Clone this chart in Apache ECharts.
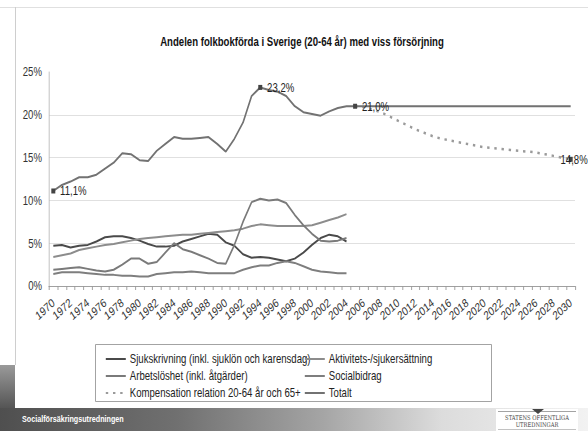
<!DOCTYPE html>
<html>
<head>
<meta charset="utf-8">
<script src="https://cdn.jsdelivr.net/npm/echarts@6/dist/echarts.min.js"></script>
<style>
  html, body { margin: 0; padding: 0; background: #fff; overflow: hidden; }
  /* bilden är hoptryckt på bredden, så diagrammet ritas bredare och trycks ihop */
  #chart { width: 735px; height: 431px; transform: scaleX(0.8); transform-origin: 0 0; }
</style>
</head>
<body>
<div id="chart"></div>
<script>
// år på x-axeln
const years = [
  '1970','1971','1972','1973','1974','1975','1976','1977','1978','1979',
  '1980','1981','1982','1983','1984','1985','1986','1987','1988','1989',
  '1990','1991','1992','1993','1994','1995','1996','1997','1998','1999',
  '2000','2001','2002','2003','2004','2005','2006','2007','2008','2009',
  '2010','2011','2012','2013','2014','2015','2016','2017','2018','2019',
  '2020','2021','2022','2023','2024','2025','2026','2027','2028','2029','2030'
];

// andel i procent, 1970-2004
const sjukskrivning = [
  4.7, 4.8, 4.5, 4.7, 4.8, 5.2, 5.7, 5.8, 5.8, 5.6,
  5.3, 4.9, 4.6, 4.6, 4.7, 5.2, 5.5, 5.8, 6.1, 6.0,
  5.1, 4.7, 3.7, 3.3, 3.4, 3.3, 3.1, 2.9, 3.2, 3.9,
  4.8, 5.6, 6.0, 5.8, 5.2
];
const aktivitets = [
  3.4, 3.6, 3.8, 4.2, 4.4, 4.6, 4.8, 4.9, 5.1, 5.3,
  5.5, 5.6, 5.7, 5.8, 5.9, 6.0, 6.0, 6.1, 6.2, 6.3,
  6.4, 6.5, 6.7, 7.0, 7.2, 7.1, 7.0, 7.0, 7.0, 7.0,
  7.1, 7.4, 7.7, 8.0, 8.4
];
const arbetsloshet = [
  1.9, 2.0, 2.1, 2.2, 2.0, 1.8, 1.7, 1.9, 2.5, 3.2,
  3.2, 2.6, 2.8, 3.9, 5.0, 4.3, 4.0, 3.6, 3.2, 2.7,
  2.6, 4.8, 7.5, 9.8, 10.2, 10.0, 10.1, 9.7, 8.3, 7.1,
  6.1, 5.3, 5.2, 5.3, 5.6
];
const socialbidrag = [
  1.4, 1.6, 1.6, 1.6, 1.5, 1.4, 1.3, 1.3, 1.2, 1.2,
  1.1, 1.1, 1.4, 1.5, 1.6, 1.6, 1.7, 1.6, 1.5, 1.5,
  1.5, 1.5, 1.9, 2.2, 2.4, 2.4, 2.7, 2.9, 2.7, 2.3,
  1.9, 1.7, 1.6, 1.5, 1.5
];
// totalt 1970-2005, sedan konstant till 2030
const totalt = [
  11.1, 11.8, 12.2, 12.7, 12.7, 13.0, 13.7, 14.4, 15.5, 15.4,
  14.7, 14.6, 15.8, 16.6, 17.4, 17.2, 17.2, 17.3, 17.4, 16.6,
  15.7, 17.2, 19.1, 22.2, 23.2, 22.9, 22.7, 22.2, 21.0, 20.3,
  20.1, 19.9, 20.4, 20.8, 21.0, 21.0, 21.0, 21.0, 21.0, 21.0,
  21.0, 21.0, 21.0, 21.0, 21.0, 21.0, 21.0, 21.0, 21.0, 21.0,
  21.0, 21.0, 21.0, 21.0, 21.0, 21.0, 21.0, 21.0, 21.0, 21.0, 21.0
];
// kompensation 2005-2030
const kompensation = [
  21.0, 20.9, 20.6, 20.3, 19.8, 19.3, 18.8, 18.3, 17.9, 17.5,
  17.2, 17.0, 16.8, 16.6, 16.4, 16.2, 16.1, 16.0, 15.9, 15.8,
  15.7, 15.6, 15.4, 15.2, 15.0, 14.8
];
const kompStart = 35; // index för 2005

// punkter som får etikett
const totaltLabels = [0, 24, 35];
const kompLabels = [kompensation.length - 1];

const FONT = "'Liberation Sans', Arial, sans-serif";
const SX = 0.8;
const px = x => x / SX;   // x i bilden -> x i det breda diagrammet

const chart = echarts.init(document.getElementById('chart'), null, { renderer: 'svg' });

function pct(v) {
  return v.toFixed(1).replace('.', ',') + '%';
}

function labelled(v, offset) {
  return {
    value: v,
    symbol: 'rect',
    symbolSize: 5,
    itemStyle: { color: '#444' },
    label: {
      show: true,
      position: 'right',
      distance: 6,
      offset: offset || [0, 0],
      formatter: p => pct(p.value),
      fontFamily: FONT,
      fontSize: 12,
      color: '#222'
    }
  };
}

const totaltData = totalt.map((v, i) => totaltLabels.includes(i) ? labelled(v) : v);
const kompData = years.map((y, i) => {
  const k = i - kompStart;
  if (k < 0) return null;
  return kompLabels.includes(k) ? labelled(kompensation[k], [-px(17), 0]) : kompensation[k];
});

const legendText = { fontFamily: FONT, fontSize: 12, color: '#222' };

const option = {
  animation: false,
  textStyle: { fontFamily: FONT },
  grid: { left: px(49), right: px(13), top: 72, bottom: 145 },
  xAxis: {
    type: 'category',
    data: years,
    boundaryGap: true,
    axisLine: { lineStyle: { color: '#999' } },
    axisTick: { show: true, interval: 0, length: 4, lineStyle: { color: '#999' } },
    axisLabel: {
      interval: 1,
      rotate: 37,
      margin: 15,
      fontSize: 12,
      color: '#333'
    }
  },
  yAxis: {
    type: 'value',
    min: 0,
    max: 25,
    interval: 5,
    axisLine: { show: true, lineStyle: { color: '#bbb' } },
    axisTick: { show: false },
    axisLabel: {
      formatter: '{value}%',
      fontSize: 12,
      margin: px(7),
      color: '#333'
    },
    splitLine: { lineStyle: { color: ['#ddd', '#ddd', '#ddd', '#ddd', '#ddd', '#fff'] } }
  },
  legend: [
    {
      orient: 'vertical',
      left: px(101),
      top: 348,
      itemWidth: px(20),
      itemHeight: 12,
      itemGap: 5,
      itemStyle: { opacity: 0 },
      textStyle: legendText,
      data: ['Sjukskrivning (inkl. sjuklön och karensdag)', 'Arbetslöshet (inkl. åtgärder)', 'Kompensation relation 20-64 år och 65+']
    },
    {
      orient: 'vertical',
      left: px(300),
      top: 348,
      itemWidth: px(20),
      itemHeight: 12,
      itemGap: 5,
      itemStyle: { opacity: 0 },
      textStyle: legendText,
      data: ['Aktivitets-/sjukersättning', 'Socialbidrag', 'Totalt']
    }
  ],
  graphic: [
    { type: 'line', shape: { x1: 0, y1: 7.5, x2: px(588), y2: 7.5 }, style: { stroke: '#ddd', lineWidth: 1 }, z: -1 },
    { type: 'line', shape: { x1: px(15.5), y1: 7, x2: px(15.5), y2: 365 }, style: { stroke: '#ccc', lineWidth: 1.2 }, z: -1 },
    {
      type: 'rect', shape: { x: 0, y: 365, width: px(15), height: 43 }, z: -1,
      style: { fill: new echarts.graphic.LinearGradient(0, 0, 0, 1, [
        { offset: 0, color: '#9a9a9a' }, { offset: 1, color: '#555' }
      ]) }
    },
    {
      type: 'rect', shape: { x: 0, y: 408, width: px(588), height: 23 }, z: -1,
      style: { fill: new echarts.graphic.LinearGradient(0, 0, 1, 0, [
        { offset: 0, color: '#4f4f4f' },
        { offset: 0.3, color: '#707070' },
        { offset: 0.55, color: '#a5a5a5' },
        { offset: 0.75, color: '#dcdcdc' },
        { offset: 1, color: '#f2f2f2' }
      ]) }
    },
    {
      type: 'rect', shape: { x: px(95.5), y: 344.5, width: px(396), height: 57 },
      style: { fill: '#fff', stroke: '#999', lineWidth: 1 }, z: -1
    },
    {
      type: 'text', x: px(302), y: 42,
      style: {
        text: 'Andelen folkbokförda i Sverige (20-64 år) med viss försörjning',
        font: 'bold 12px ' + FONT, fill: '#111', align: 'center', verticalAlign: 'middle'
      }
    },
    {
      type: 'text', x: px(22), y: 419,
      style: {
        text: 'Socialförsäkringsutredningen',
        font: 'bold 9px ' + FONT, fill: '#fff', align: 'left', verticalAlign: 'middle'
      }
    },
    { type: 'rect', shape: { x: px(496), y: 409, width: px(82), height: 22 }, style: { fill: '#fff' } },
    { type: 'line', shape: { x1: px(498), y1: 411.5, x2: px(576), y2: 411.5 }, style: { stroke: '#999', lineWidth: 1 } },
    { type: 'line', shape: { x1: px(498), y1: 429.5, x2: px(576), y2: 429.5 }, style: { stroke: '#bbb', lineWidth: 1 } },
    { type: 'polygon', shape: { points: [[px(532), 409], [px(544), 409], [px(538), 414]] }, style: { fill: '#444' } },
    {
      type: 'text', x: px(537), y: 417.5,
      style: { text: 'STATENS OFFENTLIGA', font: '6.5px "DejaVu Serif", "Liberation Serif", serif', fill: '#444', align: 'center', verticalAlign: 'middle' }
    },
    {
      type: 'text', x: px(537), y: 425,
      style: { text: 'UTREDNINGAR', font: '6.5px "DejaVu Serif", "Liberation Serif", serif', fill: '#444', align: 'center', verticalAlign: 'middle' }
    }
  ],
  series: [
    {
      name: 'Sjukskrivning (inkl. sjuklön och karensdag)',
      type: 'line', symbol: 'none',
      data: sjukskrivning,
      lineStyle: { color: '#4a4a4a', width: 2 },
      itemStyle: { color: '#4a4a4a' }
    },
    {
      name: 'Aktivitets-/sjukersättning',
      type: 'line', symbol: 'none',
      data: aktivitets,
      lineStyle: { color: '#8c8c8c', width: 2 },
      itemStyle: { color: '#8c8c8c' }
    },
    {
      name: 'Arbetslöshet (inkl. åtgärder)',
      type: 'line', symbol: 'none',
      data: arbetsloshet,
      lineStyle: { color: '#7a7a7a', width: 2 },
      itemStyle: { color: '#7a7a7a' }
    },
    {
      name: 'Socialbidrag',
      type: 'line', symbol: 'none',
      data: socialbidrag,
      lineStyle: { color: '#7e7e7e', width: 2 },
      itemStyle: { color: '#7e7e7e' }
    },
    {
      name: 'Kompensation relation 20-64 år och 65+',
      type: 'line', symbol: 'none', showSymbol: true,
      data: kompData,
      lineStyle: { color: '#9a9a9a', width: 2.5, type: [3, 6] },
      itemStyle: { color: '#9a9a9a' }
    },
    {
      name: 'Totalt',
      type: 'line', symbol: 'none', showSymbol: true,
      data: totaltData,
      lineStyle: { color: '#727272', width: 2 },
      itemStyle: { color: '#727272' },
      z: 3
    }
  ]
};

chart.setOption(option);
</script>
</body>
</html>
